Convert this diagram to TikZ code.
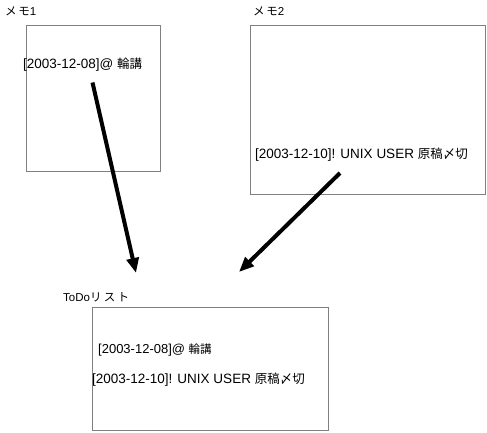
\documentclass[tikz,border=0pt]{standalone}
\usepackage{fontspec}
\setmainfont{Liberation Sans}
\newfontfamily\jp{Noto Sans CJK JP}
\usetikzlibrary{arrows.meta}
\tikzset{
  memobox/.style={draw=gray, line width=1pt, inner sep=0pt, anchor=north west},
  lbl/.style={inner sep=0pt, anchor=west, font=\fontsize{11.5}{13}\selectfont},
  item/.style={inner sep=0pt, anchor=west},
  bigarrow/.style={line width=4pt, -{Triangle[length=15pt,width=12pt]}}
}
\begin{document}
\begin{tikzpicture}[x=1pt,y=-1pt]
\useasboundingbox (0,0) rectangle (487,432);
\fill[white] (0,0) rectangle (487,432);
% boxes
\node[memobox, minimum width=134pt, minimum height=146pt] (m1) at (26,25) {};
\node[memobox, minimum width=235pt, minimum height=169pt] (m2) at (250,25) {};
\node[memobox, minimum width=236pt, minimum height=123pt] (td) at (92,307) {};
% labels
\node[lbl] (l1) at (5,11) {{\jp\addfontfeature{LetterSpace=15}メモ}1};
\node[lbl] (l2) at (253,11) {{\jp\addfontfeature{LetterSpace=15}メモ}2};
\node[lbl] (l3) at (63,297) {ToDo{\jp\addfontfeature{LetterSpace=20}リスト}};
% items
\node[item, font=\fontsize{13.5}{16}\selectfont] (t1) at (23,65) {[2003-12-08]@ {\jp\fontsize{12.5}{16}\selectfont 輪講}};
\node[item, font=\fontsize{13.5}{16}\selectfont] (t2) at (255,155) {[2003-12-10]! UNIX USER {\jp\fontsize{12.5}{16}\selectfont 原稿〆切}};
\node[item, font=\fontsize{13}{16}\selectfont] (t3) at (98,350) {[2003-12-08]@ {\jp\fontsize{11.5}{16}\selectfont 輪講}};
\node[item, font=\fontsize{13.5}{16}\selectfont] (t4) at (92,380) {[2003-12-10]! UNIX USER {\jp\fontsize{12.5}{16}\selectfont 原稿〆切}};
% arrows
\coordinate (a1s) at (92.5,82.5);
\coordinate (a1e) at (136,273);
\coordinate (a2s) at (340,173);
\coordinate (a2e) at (239,272);
\draw[bigarrow] (a1s) -- (a1e);
\draw[bigarrow] (a2s) -- (a2e);
\end{tikzpicture}
\end{document}
